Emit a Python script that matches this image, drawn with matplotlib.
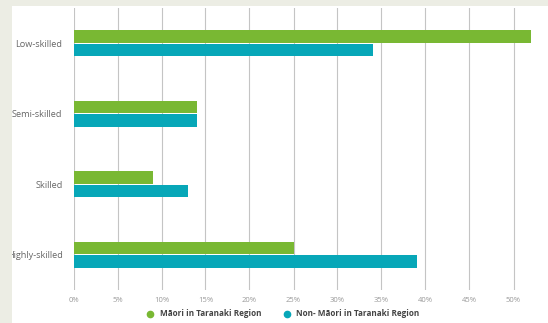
import matplotlib
matplotlib.use("Agg")
import matplotlib.pyplot as plt
from matplotlib.patches import Rectangle
from matplotlib.lines import Line2D
import numpy as np

# 数据（从图上读出来的百分比）
categories = ["Low-skilled", "Semi-skilled", "Skilled", "Highly-skilled"]
maori = [52, 14, 9, 25]
non_maori = [34, 14, 13, 39]
series_names = ["Māori in Taranaki Region", "Non- Māori in Taranaki Region"]
xticks = list(range(0, 60, 5))
xtick_labels = [f"{t}%" for t in xticks]

GREEN = "#79b833"
TEAL = "#07a7b8"
BEIGE = "#ecede4"

plt.rcParams["font.family"] = ["Open Sans", "DejaVu Sans"]

fig = plt.figure(figsize=(5.48, 3.23), dpi=100)
fig.patch.set_facecolor("white")

# 坐标轴位置按像素算（右边超出画布，和原图一样被裁掉）
W, H = 548, 323
left, right = 73.5, 557.5
top, bottom = 8, 290
ax = fig.add_axes([left / W, 1 - bottom / H, (right - left) / W, (bottom - top) / H])
ax.set_facecolor("none")

y = np.arange(len(categories))
h = 0.18
off = 0.095
ax.barh(y - off, maori, height=h, color=GREEN, zorder=3)
ax.barh(y + off, non_maori, height=h, color=TEAL, zorder=3)

ax.set_xlim(0, 55)
ax.set_ylim(3.5, -0.5)
ax.set_xticks(xticks)
ax.set_xticklabels(xtick_labels)
ax.set_yticks(y)
ax.set_yticklabels(categories)
ax.tick_params(axis="x", length=0, labelsize=5.5, labelcolor="#999999", pad=5)
ax.tick_params(axis="y", length=0, labelsize=6.6, labelcolor="#666666", pad=8)
ax.grid(axis="x", color="#c4c4c4", linewidth=0.8, zorder=0)
for s in ax.spines.values():
    s.set_visible(False)

# 图例
handles = [
    Line2D([], [], marker="o", linestyle="", markersize=4.5, color=GREEN),
    Line2D([], [], marker="o", linestyle="", markersize=4.5, color=TEAL),
]
leg = fig.legend(handles, series_names, loc="center", bbox_to_anchor=(0.516, 1 - 314 / H),
                 ncol=2, frameon=False, fontsize=5.9, handletextpad=0.7,
                 columnspacing=2.6, handlelength=1.0)
for t in leg.get_texts():
    t.set_color("#444444")
    t.set_fontweight("bold")

# 左边和上边的米色边框
fig.add_artist(Rectangle((0, 0), 12 / W, 1, transform=fig.transFigure,
                         facecolor=BEIGE, edgecolor="none", zorder=10))
fig.add_artist(Rectangle((0, 1 - 6 / H), 1, 6 / H, transform=fig.transFigure,
                         facecolor=BEIGE, edgecolor="none", zorder=10))

fig.savefig("out.png", dpi=100)
